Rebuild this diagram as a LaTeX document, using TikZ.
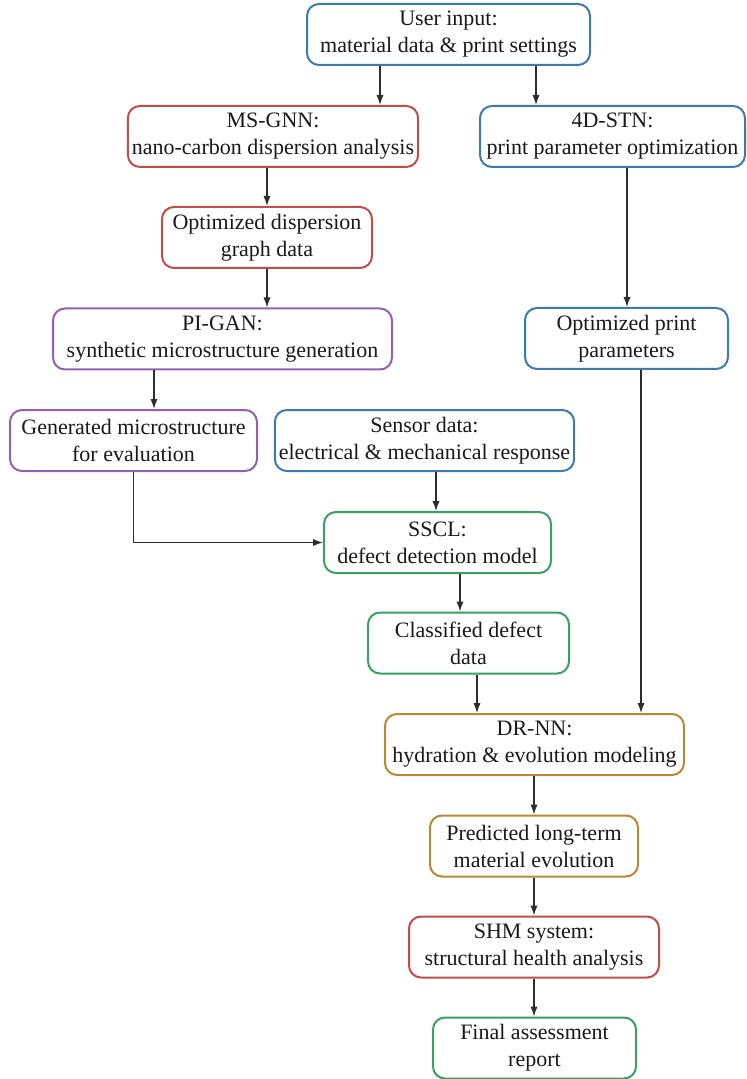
\documentclass[tikz,border=0pt]{standalone}
\usepackage{fontspec}
\setmainfont{Liberation Serif}
\usetikzlibrary{arrows.meta}

\definecolor{cblue}{RGB}{62,122,172}
\definecolor{cred}{RGB}{192,78,70}
\definecolor{cpurple}{RGB}{146,96,176}
\definecolor{cgreen}{RGB}{58,160,98}
\definecolor{cgold}{RGB}{186,136,52}
\definecolor{cline}{RGB}{45,45,45}

\tikzset{
  box/.style={draw, line width=1pt, rounded corners=6pt, align=center,
    minimum height=30.5pt, inner sep=2pt, fill=white, text=black!90,
    font=\fontsize{11}{13.5}\selectfont},
  arr/.style={draw=cline, line width=0.6pt, -{Latex[length=5pt,width=3.6pt]}}
}

\begin{document}
\begin{tikzpicture}[x=0.5pt,y=-0.5pt]
	\useasboundingbox (0,0) rectangle (747,1079);
	% boxes
	\node[box, draw=cblue, minimum width=141.5pt] (inp) at (448.5,34.5) {User input:\\material data \& print settings};
	\node[box, draw=cred, minimum width=145pt] (msgnn) at (273,136.5) {MS-GNN:\\nano-carbon dispersion analysis};
	\node[box, draw=cblue, minimum width=132.5pt] (stn) at (612.5,136.5) {4D-STN:\\print parameter optimization};
	\node[box, draw=cred, minimum width=105pt] (disp) at (267,237.5) {Optimized dispersion\\graph data};
	\node[box, draw=cpurple, minimum width=169.5pt] (gan) at (222.5,339) {PI-GAN:\\synthetic microstructure generation};
	\node[box, draw=cblue, minimum width=101.5pt] (prm) at (626.5,338.5) {Optimized print\\parameters};
	\node[box, draw=cpurple, minimum width=123.5pt] (gen) at (133.5,440.5) {Generated microstructure\\for evaluation};
	\node[box, draw=cblue, minimum width=147.5pt] (sens) at (424.5,440.5) {Sensor data:\\electrical \& mechanical response};
	\node[box, draw=cgreen, minimum width=113.5pt] (sscl) at (437.5,542.5) {SSCL:\\defect detection model};
	\node[box, draw=cgreen, minimum width=100.5pt] (cls) at (468.5,643) {Classified defect\\data};
	\node[box, draw=cgold, minimum width=149.5pt] (drnn) at (534.5,744.5) {DR-NN:\\hydration \& evolution modeling};
	\node[box, draw=cgold, minimum width=104pt] (pred) at (534,846) {Predicted long-term\\material evolution};
	\node[box, draw=cred, minimum width=125pt] (shm) at (534,947) {SHM system:\\structural health analysis};
	\node[box, draw=cgreen, minimum width=101.5pt] (fin) at (534.5,1048) {Final assessment\\report};
	% connectors
	\draw[arr] (inp.south -| 380,0) -- (msgnn.north -| 380,0);
	\draw[arr] (inp.south -| 536,0) -- (stn.north -| 536,0);
	\draw[arr] (msgnn.south -| 267,0) -- (disp.north -| 267,0);
	\draw[arr] (disp.south -| 267,0) -- (gan.north -| 267,0);
	\draw[arr] (gan.south -| 154,0) -- (gen.north -| 154,0);
	\draw[arr] (stn.south -| 627,0) -- (prm.north -| 627,0);
	\draw[arr] (prm.south -| 641,0) -- (drnn.north -| 641,0);
	\draw[arr] (gen.south) |- (sscl.west);
	\draw[arr] (sens.south -| 436,0) -- (sscl.north -| 436,0);
	\draw[arr] (sscl.south -| 460,0) -- (cls.north -| 460,0);
	\draw[arr] (cls.south -| 477,0) -- (drnn.north -| 477,0);
	\draw[arr] (drnn.south -| 534,0) -- (pred.north -| 534,0);
	\draw[arr] (pred.south -| 534,0) -- (shm.north -| 534,0);
	\draw[arr] (shm.south -| 534,0) -- (fin.north -| 534,0);
\end{tikzpicture}
\end{document}
